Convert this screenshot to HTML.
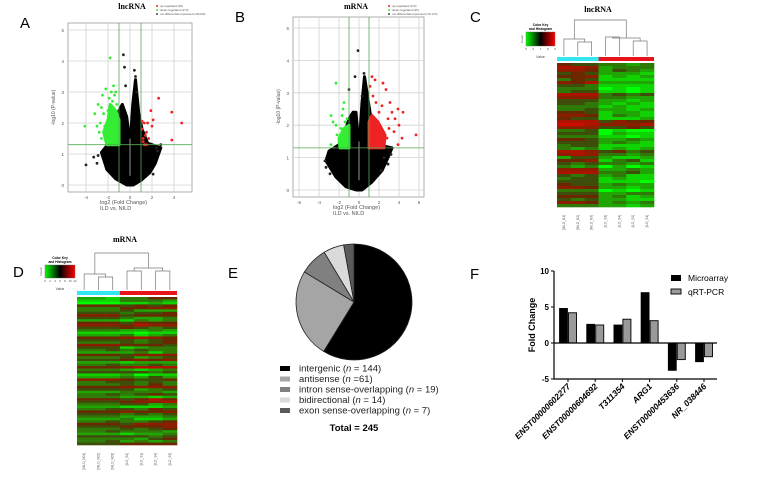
<!DOCTYPE html>
<html><head><meta charset="utf-8"><style>
html,body{margin:0;padding:0;background:#fff;width:781px;height:488px;overflow:hidden}
svg{display:block;font-family:"Liberation Sans",sans-serif}
</style></head><body>
<svg id="fig" width="781" height="488" viewBox="0 0 781 488" xmlns="http://www.w3.org/2000/svg">
<g font-size="15" fill="#000">
<text x="20" y="28">A</text>
<text x="235" y="22">B</text>
<text x="470" y="22">C</text>
<text x="13" y="277">D</text>
<text x="228" y="278">E</text>
<text x="470" y="279">F</text>
</g>
<g id="gA"></g>
<g id="gB"></g>
<g id="gC"></g>
<g id="gD"></g>
<g id="gE"></g>
<g id="gF"></g>
</svg>
<script>
const NS="http://www.w3.org/2000/svg";
function mk(p,t,a){const e=document.createElementNS(NS,t);for(const k in a)e.setAttribute(k,a[k]);p.appendChild(e);return e;}

/* ---------- Volcano data ---------- */
const volcACloud=[[-0.3,0],[0.3,0],[1.0,0.15],[1.8,0.4],[2.3,0.7],[2.8,1.2],[1.6,1.35],[1.1,1.8],[0.8,2.3],[0.5,3.4],[0.25,2.6],[0.05,1.5],[-0.05,1.5],[-0.3,2.2],[-0.7,2.6],[-1.0,2.4],[-1.3,1.9],[-1.8,1.4],[-2.6,1.05],[-2.1,0.5],[-1.3,0.2]];
const volcAGreenArea=[[-1,1.3],[-2.1,1.3],[-2.4,1.7],[-2.0,2.1],[-1.8,2.6],[-1.3,2.4],[-1,2.1]];
const volcAGreen=[[-4.1,1.9],[-1.8,4.1],[-2.5,2.9],[-3.2,2.3],[-2.9,2.6],[-1.5,3.2],[-2.7,2.0],[-1.3,3.0],[-2.2,3.1],[-2.6,1.5],[-2.4,2.3],[-1.9,2.8],[-1.6,2.7],[-2.3,1.9],[-2.8,1.7],[-1.2,2.6],[-2.0,2.4],[-1.4,2.9],[-3.0,1.9],[-2.2,1.4],[-1.7,3.0],[-2.6,2.5]];
const volcARed=[[1.2,1.4],[1.4,1.6],[1.6,2.0],[1.1,1.8],[1.9,2.4],[2.0,1.9],[1.5,1.3],[2.6,2.8],[3.8,2.35],[4.7,2.0],[3.8,1.45],[1.3,2.0],[1.7,1.5],[2.1,2.1],[1.2,1.5],[1.5,1.7],[1.3,1.3],[1.1,2.05]];
const volcABlack=[[-0.6,4.2],[-0.5,3.8],[0.4,3.7],[-4,0.65],[-3.3,0.9],[-2.9,0.95],[-3.0,0.7],[2.1,0.35],[2.4,1.2],[-0.4,3.2],[0.5,3.5],[0.6,3.0],[2.8,1.3],[2.5,1.1]];
const volcBCloud=[[-0.3,0],[0.3,0],[1.3,0.25],[2.3,0.6],[2.9,1.0],[3.3,1.3],[1.8,1.4],[1.3,2.0],[0.9,2.8],[0.55,3.5],[0.3,2.7],[0.05,1.5],[-0.05,1.5],[-0.3,2.4],[-0.6,2.4],[-1.0,2.2],[-1.4,1.8],[-2.0,1.4],[-3.0,1.2],[-3.3,0.9],[-2.3,0.4],[-1.3,0.1]];
const volcBGreenArea=[[-1,1.3],[-1.9,1.3],[-2.0,1.6],[-1.5,1.9],[-1,2.0]];
const volcBGreen=[[-2.3,3.3],[-1.5,2.7],[-1.6,2.5],[-2.8,2.3],[-2.6,2.1],[-2.3,2.0],[-2.8,1.4],[-2.2,1.7],[-1.4,2.1],[-1.8,1.9],[-2.0,1.5],[-1.2,2.2],[-1.7,2.3]];
const volcBRedArea=[[1,1.3],[2.5,1.3],[2.6,1.7],[1.9,2.1],[1.3,2.3],[1,2.1]];
const volcBRed=[[1.3,3.5],[1.6,3.4],[2.4,3.3],[2.7,3.1],[1.1,3.2],[3.1,2.7],[2.3,2.6],[3.9,2.5],[4.4,2.4],[4.0,2.0],[3.5,1.8],[4.3,1.6],[5.7,1.7],[3.9,1.4],[2.9,2.2],[1.4,2.9],[3.3,2.4],[2.0,2.4],[2.8,1.6],[3.0,1.9],[1.7,2.7],[3.6,2.2]];
const volcBBlack=[[-0.1,4.3],[-0.4,3.5],[0.5,3.6],[-1.0,3.1],[0.3,2.9],[-3.4,0.9],[-3.3,0.7],[-2.9,0.5],[2.2,0.6],[2.5,1.0],[2.9,0.8],[-2.5,1.3],[3.2,1.1]];

function volcano(g,o){
  const X=v=>o.x0+v*o.sx, Y=v=>o.y0-v*o.sy;
  const r=mk(g,'rect',{x:o.L,y:o.T,width:o.R-o.L,height:o.B-o.T,fill:'#fff',stroke:'#999','stroke-width':0.8});
  
  
  for(let v=o.xmin;v<=o.xmax;v+=2){
    mk(g,'line',{x1:X(v),x2:X(v),y1:o.T,y2:o.B,stroke:'#d0d0d0','stroke-width':0.8});
    const t=mk(g,'text',{x:X(v),y:o.B+7,'font-size':4.5,fill:'#555','text-anchor':'middle'});t.textContent=v;
    
    
  }
  for(let v=0;v<=5;v++){
    mk(g,'line',{x1:o.L,x2:o.R,y1:Y(v),y2:Y(v),stroke:'#d0d0d0','stroke-width':0.8});
    const t=mk(g,'text',{x:o.L-4,y:Y(v)+2,'font-size':4.5,fill:'#555','text-anchor':'end'});t.textContent=v;
    
    
  }
  const poly=(pts,c)=>mk(g,'polygon',{points:pts.map(q=>X(q[0])+','+Y(q[1])).join(' '),fill:c,stroke:c,'stroke-width':3,'stroke-linejoin':'round'});
  const pc=poly(o.cloud,'#000');
  
  
  if(o.ga){const p=poly(o.ga,'#33ee33');
    
    }
  if(o.ra){const p=poly(o.ra,'#ee2222');
    
    }
  const pts=(arr,c,n)=>arr.forEach(q=>{const e=mk(g,'circle',{cx:X(q[0]),cy:Y(q[1]),r:1.4,fill:c});
    
    });
  pts(o.bk,'#222','point-not-significant');pts(o.gr,'#33ee33','point-down');pts(o.rd,'#ee2222','point-up');
  mk(g,'line',{x1:X(0),x2:X(0),y1:Y(1.5),y2:Y(0.3),stroke:'#bbb','stroke-width':0.8});
  mk(g,'line',{x1:X(-1),x2:X(-1),y1:o.T,y2:o.B,stroke:'#5a5','stroke-width':0.8});
  mk(g,'line',{x1:X(1),x2:X(1),y1:o.T,y2:o.B,stroke:'#5a5','stroke-width':0.8});
  mk(g,'line',{x1:o.L,x2:o.R,y1:Y(1.3),y2:Y(1.3),stroke:'#5a5','stroke-width':0.8});
  const tt=mk(g,'text',{x:o.tx,y:9,'font-size':8,'font-weight':'bold','font-family':'Liberation Serif,serif','text-anchor':'middle'});tt.textContent=o.title;
  
  
  const yl=mk(g,'text',{x:0,y:0,'font-size':5,fill:'#555','text-anchor':'middle',transform:`translate(${o.L-13},${(o.T+o.B)/2}) rotate(-90)`});yl.textContent='-log10 (P-value)';
  
  
  const x1=mk(g,'text',{x:o.lx,y:o.B+12,'font-size':5.5,fill:'#555'});x1.textContent='log2 (Fold Change)';
  
  
  const x2=mk(g,'text',{x:o.lx,y:o.B+18,'font-size':5.5,fill:'#555'});x2.textContent='ILD vs. NILD';
  
  
  const lg=[['#ee2222',o.leg[0]],['#33ee33',o.leg[1]],['#444',o.leg[2]]];
  lg.forEach((l,i)=>{mk(g,'circle',{cx:o.lgx,cy:6+i*4,r:1,fill:l[0]});
    const t=mk(g,'text',{x:o.lgx+3,y:7.2+i*4,'font-size':3,fill:'#555'});t.textContent=l[1];
    
    });
}
volcano(document.getElementById('gA'),{L:68,R:192,T:23,B:192,x0:130,sx:11,y0:185,sy:31,xmin:-4,xmax:4,cloud:volcACloud,ga:volcAGreenArea,gr:volcAGreen,rd:volcARed,bk:volcABlack,title:'lncRNA',tx:132,lx:100,lgx:157,leg:['up-regulated (36)','down-regulated (274)','not differential expressed (18,649)']});
volcano(document.getElementById('gB'),{L:293,R:424,T:17,B:197,x0:359,sx:10,y0:190,sy:32.4,xmin:-6,xmax:6,cloud:volcBCloud,ga:volcBGreenArea,ra:volcBRedArea,gr:volcBGreen,rd:volcBRed,bk:volcBBlack,title:'mRNA',tx:356,lx:333,lgx:389,leg:['up-regulated (113)','down-regulated (35)','not differential expressed (16,173)']});

/* ---------- Heatmap data ---------- */
const heatCRows=["5443323","7762333","6652432","4542221","5561212","3541111","6572222","4431111","3330101","3441101","7773434","6663322","4442212","4432121","3331211","3342212","5541221","6651321","5441112","7774655","8876667","6664454","3340100","4440211","3331101","5542232","4442321","3441111","3231212","7764534","6763323","2442112","5561341","4343323","3230201","6662232","7773342","4342311","3441211","4441110","5442322","6652212","3330101","4442233","5552312","4342211","6652323","3332212"];
const heatDRows=["2213355","1113332","0001121","5554545","3335566","3334222","4443445","6664555","4443223","2221323","5554655","6665766","4445434","3332232","1111011","2223123","5556765","4444345","3334345","6665554","4441233","3343433","2222313","5554666","3334234","4445656","2221222","3343343","5556777","3332123","4444434","1112011","2223242","6665445","3344343","3334353","5556666","4444234","2223332","3343454","3332212","5554575","4445667","3334423","2221112","3344354","5556556","4443434","3332223","2223112","3343345","5554666","4445556","3334345","3343332","2221223","4444434","3333245","3342323","4445555"];
const heatCLabels=["[NILD_N1]","[NILD_N2]","[NILD_N3]","[ILD_S3]","[ILD_S4]","[ILD_S2]","[ILD_S1]"];
const heatDLabels=["[NILD_N01]","[NILD_N02]","[NILD_N03]","[ILD_S2]","[ILD_S1]","[ILD_S4]","[ILD_S3]"];
function col(v){v=+v;if(v<=4.5){const t=(4.5-v)/4.5;return `rgb(${Math.round(70*(1-t))},${Math.round(55+200*t)},${Math.round(10*(1-t))})`;}const t=(v-4.5)/4.5;return `rgb(${Math.round(90+150*t)},${Math.round(45*(1-t))},0)`;}
function heat(g,o,rows,labels){
  const n=7,cw=(o.R-o.L)/n,rh=(o.B-o.T)/rows.length;
  rows.forEach((r,i)=>{for(let j=0;j<n;j++){const c=mk(g,'rect',{x:o.L+j*cw,y:o.T+i*rh,width:cw+0.3,height:rh+0.3,fill:col(r[j])});
    
    }});
  const cyan=mk(g,'rect',{x:o.L,y:o.barY,width:cw*3,height:4,fill:'#33e6f0'});
  
  
  const red=mk(g,'rect',{x:o.L+cw*3,y:o.barY,width:cw*4,height:4,fill:'#e8141b'});
  
  
  const cx=j=>o.L+(j+0.5)*cw;
  const seg=d=>{mk(g,'path',{d:d,fill:'none',stroke:'#777','stroke-width':0.7});};
  const h=o.dh, base=o.barY-1;
  seg(`M${cx(1)} ${base}V${h[0]}H${cx(2)}V${base}`);
  const m12=(cx(1)+cx(2))/2;
  seg(`M${cx(0)} ${base}V${h[1]}H${m12}V${h[0]}`);
  const lm=(cx(0)+m12)/2;
  seg(`M${cx(5)} ${base}V${h[2]}H${cx(6)}V${base}`);
  const m56=(cx(5)+cx(6))/2;
  seg(`M${cx(3)} ${base}V${h[3]}H${cx(4)}V${base}`);
  const m34=(cx(3)+cx(4))/2;
  seg(`M${m34} ${h[3]}V${h[4]}H${m56}V${h[2]}`);
  const rm=(m34+m56)/2;
  seg(`M${lm} ${h[1]}V${h[5]}H${rm}V${h[4]}`);
  labels.forEach((l,j)=>{const t=mk(g,'text',{x:0,y:0,'font-size':3.2,fill:'#555','text-anchor':'end',transform:`translate(${cx(j)+1},${o.B+8}) rotate(-90)`});t.textContent=l;
    
    });
  const tt=mk(g,'text',{x:o.tx,y:o.ty,'font-size':8,'font-weight':'bold','font-family':'Liberation Serif,serif','text-anchor':'middle'});tt.textContent=o.title;
  
  
  const k=o.key;
  const gid='kg'+o.title;
  const defs=mk(g,'defs',{});const lg=mk(defs,'linearGradient',{id:gid});
  [['0','#00ff00'],['0.5','#000'],['1','#ff0000']].forEach(s=>mk(lg,'stop',{offset:s[0],'stop-color':s[1]}));
  const kr=mk(g,'rect',{x:k[0],y:k[1],width:k[2],height:k[3],fill:`url(#${gid})`,stroke:'#666','stroke-width':0.4});
  
  
  const a=mk(g,'text',{x:k[0]+k[2]/2,y:k[1]-6,'font-size':3.3,'font-weight':'bold','text-anchor':'middle'});a.textContent='Color Key';
  const b=mk(g,'text',{x:k[0]+k[2]/2,y:k[1]-2,'font-size':3.3,'font-weight':'bold','text-anchor':'middle'});b.textContent='and Histogram';
  const v=mk(g,'text',{x:k[0]+k[2]/2,y:k[1]+k[3]+12,'font-size':3.5,fill:'#444','text-anchor':'middle'});v.textContent='Value';
  const c=mk(g,'text',{x:0,y:0,'font-size':3,fill:'#444','text-anchor':'middle',transform:`translate(${k[0]-3},${k[1]+k[3]/2}) rotate(-90)`});c.textContent='Count';
  o.ticks.forEach((tk,i)=>{const t=mk(g,'text',{x:k[0]+i*k[2]/(o.ticks.length-1),y:k[1]+k[3]+4,'font-size':2.8,fill:'#444','text-anchor':'middle'});t.textContent=tk;});
}
heat(document.getElementById('gC'),{L:557,R:654,T:63,B:207,barY:57,dh:[42,39,41,37,38,20],title:'lncRNA',tx:598,ty:12,key:[526,32,29,14],ticks:['5','6','7','8','9']},heatCRows,heatCLabels);
heat(document.getElementById('gD'),{L:77,R:177,T:297,B:445,barY:291,dh:[277,274,271,271,268,253],title:'mRNA',tx:125,ty:242,key:[45,265,30,13],ticks:['0','2','4','6','8','10','12']},heatDRows,heatDLabels);

/* ---------- Pie data ---------- */
const pieLabels=["intergenic","antisense","intron sense-overlapping","bidirectional","exon sense-overlapping"];
const pieValues=[144,61,19,14,7];
const pieLegendText=["(n = 144)","(n =61)","(n = 19)","(n = 14)","(n = 7)"];
(function(){
  const g=document.getElementById('gE');const cols=['#000','#a5a5a5','#808080','#dadada','#5a5a5a'];
  const cx=354,cy=302,r=58;const tot=pieValues.reduce((a,b)=>a+b,0);let a0=-Math.PI/2;
  pieValues.forEach((v,i)=>{const a1=a0+v/tot*2*Math.PI;const big=(a1-a0)>Math.PI?1:0;
    const p=mk(g,'path',{d:`M${cx} ${cy}L${cx+r*Math.cos(a0)} ${cy+r*Math.sin(a0)}A${r} ${r} 0 ${big} 1 ${cx+r*Math.cos(a1)} ${cy+r*Math.sin(a1)}Z`,fill:cols[i],stroke:'#222','stroke-width':0.8});
    
    
    a0=a1;});
  pieLabels.forEach((l,i)=>{const y=369+i*10.5;
    const s=mk(g,'rect',{x:280,y:y-3,width:10,height:5,fill:cols[i]});
    
    
    const t=mk(g,'text',{x:299,y:y+2.5,'font-size':9.5,fill:'#222'});
    const parts=pieLegendText[i].match(/\((n)(.*)\)/);
    t.textContent=l+' (';const it=mk(t,'tspan',{'font-style':'italic'});it.textContent='n';const rest=mk(t,'tspan',{});rest.textContent=parts[2]+')';
    
    });
  const tt=mk(g,'text',{x:354,y:431,'font-size':9.5,'font-weight':'bold','text-anchor':'middle'});tt.textContent='Total = '+pieValues.reduce((a,b)=>a+b,0);
  
  
})();

/* ---------- Bar data ---------- */
const barGenes=["ENST00000602277","ENST00000604692","T311354","ARG1","ENST00000453636","NR_038446"];
const barMicroarray=[4.8,2.6,2.5,7.0,-3.8,-2.6];
const barQRT=[4.2,2.5,3.3,3.1,-2.3,-1.9];
const barTicks=[-5,0,5,10];
(function(){
  const g=document.getElementById('gF');const Y=v=>343-v*7.2;const X=i=>568+i*27.2;
  barGenes.forEach((gn,i)=>{
    const a=barMicroarray[i],b=barQRT[i];
    const r1=mk(g,'rect',{x:X(i)-8.5,y:Math.min(Y(a),Y(0)),width:8,height:Math.abs(Y(a)-Y(0)),fill:'#000',stroke:'#000','stroke-width':0.8});
    
    
    const r2=mk(g,'rect',{x:X(i)+0.5,y:Math.min(Y(b),Y(0)),width:8,height:Math.abs(Y(b)-Y(0)),fill:'#9a9a9a',stroke:'#111','stroke-width':1});
    
    
    mk(g,'line',{x1:X(i),x2:X(i),y1:379,y2:382,stroke:'#000','stroke-width':1});
    const t=mk(g,'text',{x:0,y:0,'font-size':8.5,'font-weight':'bold','font-style':'italic','text-anchor':'end',transform:`translate(${X(i)+3},${387}) rotate(-45)`});t.textContent=gn;
    
    
  });
  mk(g,'line',{x1:554,x2:554,y1:271,y2:379,stroke:'#000','stroke-width':1.2});
  mk(g,'line',{x1:554,x2:717,y1:379,y2:379,stroke:'#000','stroke-width':1.2});
  mk(g,'line',{x1:554,x2:717,y1:Y(0),y2:Y(0),stroke:'#000','stroke-width':1.2});
  barTicks.forEach(v=>{mk(g,'line',{x1:551,x2:554,y1:Y(v),y2:Y(v),stroke:'#000','stroke-width':1});
    const t=mk(g,'text',{x:549,y:Y(v)+3,'font-size':8,'font-weight':'bold','text-anchor':'end'});t.textContent=v;
    
    });
  const yt=mk(g,'text',{x:0,y:0,'font-size':9,'font-weight':'bold','text-anchor':'middle',transform:'translate(535,325) rotate(-90)'});yt.textContent='Fold Change';
  
  
  const l1=mk(g,'rect',{x:671,y:275,width:10,height:6,fill:'#000'});
  
  
  const t1=mk(g,'text',{x:688,y:281,'font-size':8.5});t1.textContent='Microarray';
  
  
  const l2=mk(g,'rect',{x:671,y:289,width:10,height:5,fill:'#9a9a9a',stroke:'#111','stroke-width':1});
  
  
  const t2=mk(g,'text',{x:688,y:295,'font-size':8.5});t2.textContent='qRT-PCR';
  
  
})();
</script>
</body></html>
